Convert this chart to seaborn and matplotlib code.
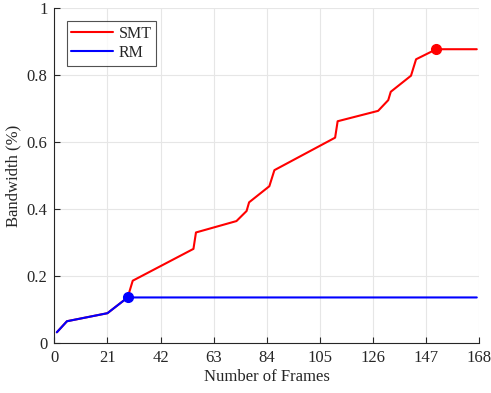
import matplotlib
matplotlib.use("Agg")
import matplotlib.pyplot as plt
import seaborn as sns
import pandas as pd

# Data
smt_x = [1, 5, 21, 29, 31, 55, 56, 72, 76, 77, 85, 87, 111, 112, 128, 132, 133, 141, 143, 151, 167]
smt_y = [0.032, 0.065, 0.089, 0.136, 0.186, 0.281, 0.330, 0.364, 0.394, 0.420, 0.468, 0.516,
         0.613, 0.662, 0.693, 0.725, 0.750, 0.798, 0.847, 0.877, 0.877]
rm_x = [1, 5, 21, 29, 167]
rm_y = [0.032, 0.065, 0.089, 0.136, 0.136]
smt_peak_idx = 19
rm_peak_idx = 3
x_ticks = [0, 21, 42, 63, 84, 105, 126, 147, 168]
y_ticks = [0, 0.2, 0.4, 0.6, 0.8, 1]
y_tick_labels = ["0", "0.2", "0.4", "0.6", "0.8", "1"]

sns.set_style("whitegrid")
plt.rcParams['font.family'] = ['Liberation Serif', 'DejaVu Serif']
plt.rcParams['mathtext.fontset'] = 'stix'

txt = '#262626'
fig = plt.figure(figsize=(4.91, 3.93), dpi=100)
ax = fig.add_axes([0.1106, 0.1272, 0.8656, 0.8524])

df_smt = pd.DataFrame({"x": smt_x, "y": smt_y})
df_rm = pd.DataFrame({"x": rm_x, "y": rm_y})

sns.lineplot(data=df_smt, x="x", y="y", ax=ax, color="#ff0000", linewidth=1.5,
             sort=False, estimator=None, label="SMT")
sns.lineplot(data=df_rm, x="x", y="y", ax=ax, color="#0000ff", linewidth=1.5,
             sort=False, estimator=None, label="RM")
ax.plot([smt_x[smt_peak_idx]], [smt_y[smt_peak_idx]], 'o', color="#ff0000", markersize=7, zorder=5)
ax.plot([rm_x[rm_peak_idx]], [rm_y[rm_peak_idx]], 'o', color="#0000ff", markersize=7, zorder=5)

ax.set_xlim(0, 168)
ax.set_ylim(0, 1)
ax.set_xticks(x_ticks)
ax.set_xticklabels([str(t) for t in x_ticks])
ax.set_yticks(y_ticks)
ax.set_yticklabels(y_tick_labels)
ax.grid(True, color='#e6e6e6', linewidth=0.8)
ax.set_facecolor('white')

for s in ['top', 'right']:
    ax.spines[s].set_visible(False)
for s in ['left', 'bottom']:
    ax.spines[s].set_visible(True)
    ax.spines[s].set_color(txt)
    ax.spines[s].set_linewidth(0.8)

ax.tick_params(axis='both', direction='in', length=4, width=0.8, color=txt,
               labelsize=12, labelcolor=txt, left=True, bottom=True, pad=5)

ax.set_xlabel("Number of Frames", fontsize=12, color=txt, labelpad=2)
ax.set_ylabel("Bandwidth (%)", fontsize=12, color=txt, labelpad=4)

leg = ax.legend(loc='upper left', bbox_to_anchor=(0.029, 0.962), fontsize=11.5,
                frameon=True, fancybox=False, edgecolor=txt, handlelength=2.6,
                borderpad=0.3, labelspacing=0.2, handletextpad=0.35, borderaxespad=0.0)
leg.get_frame().set_linewidth(0.8)
for t in leg.get_texts():
    t.set_color(txt)

fig.savefig("out.png", dpi=100)
